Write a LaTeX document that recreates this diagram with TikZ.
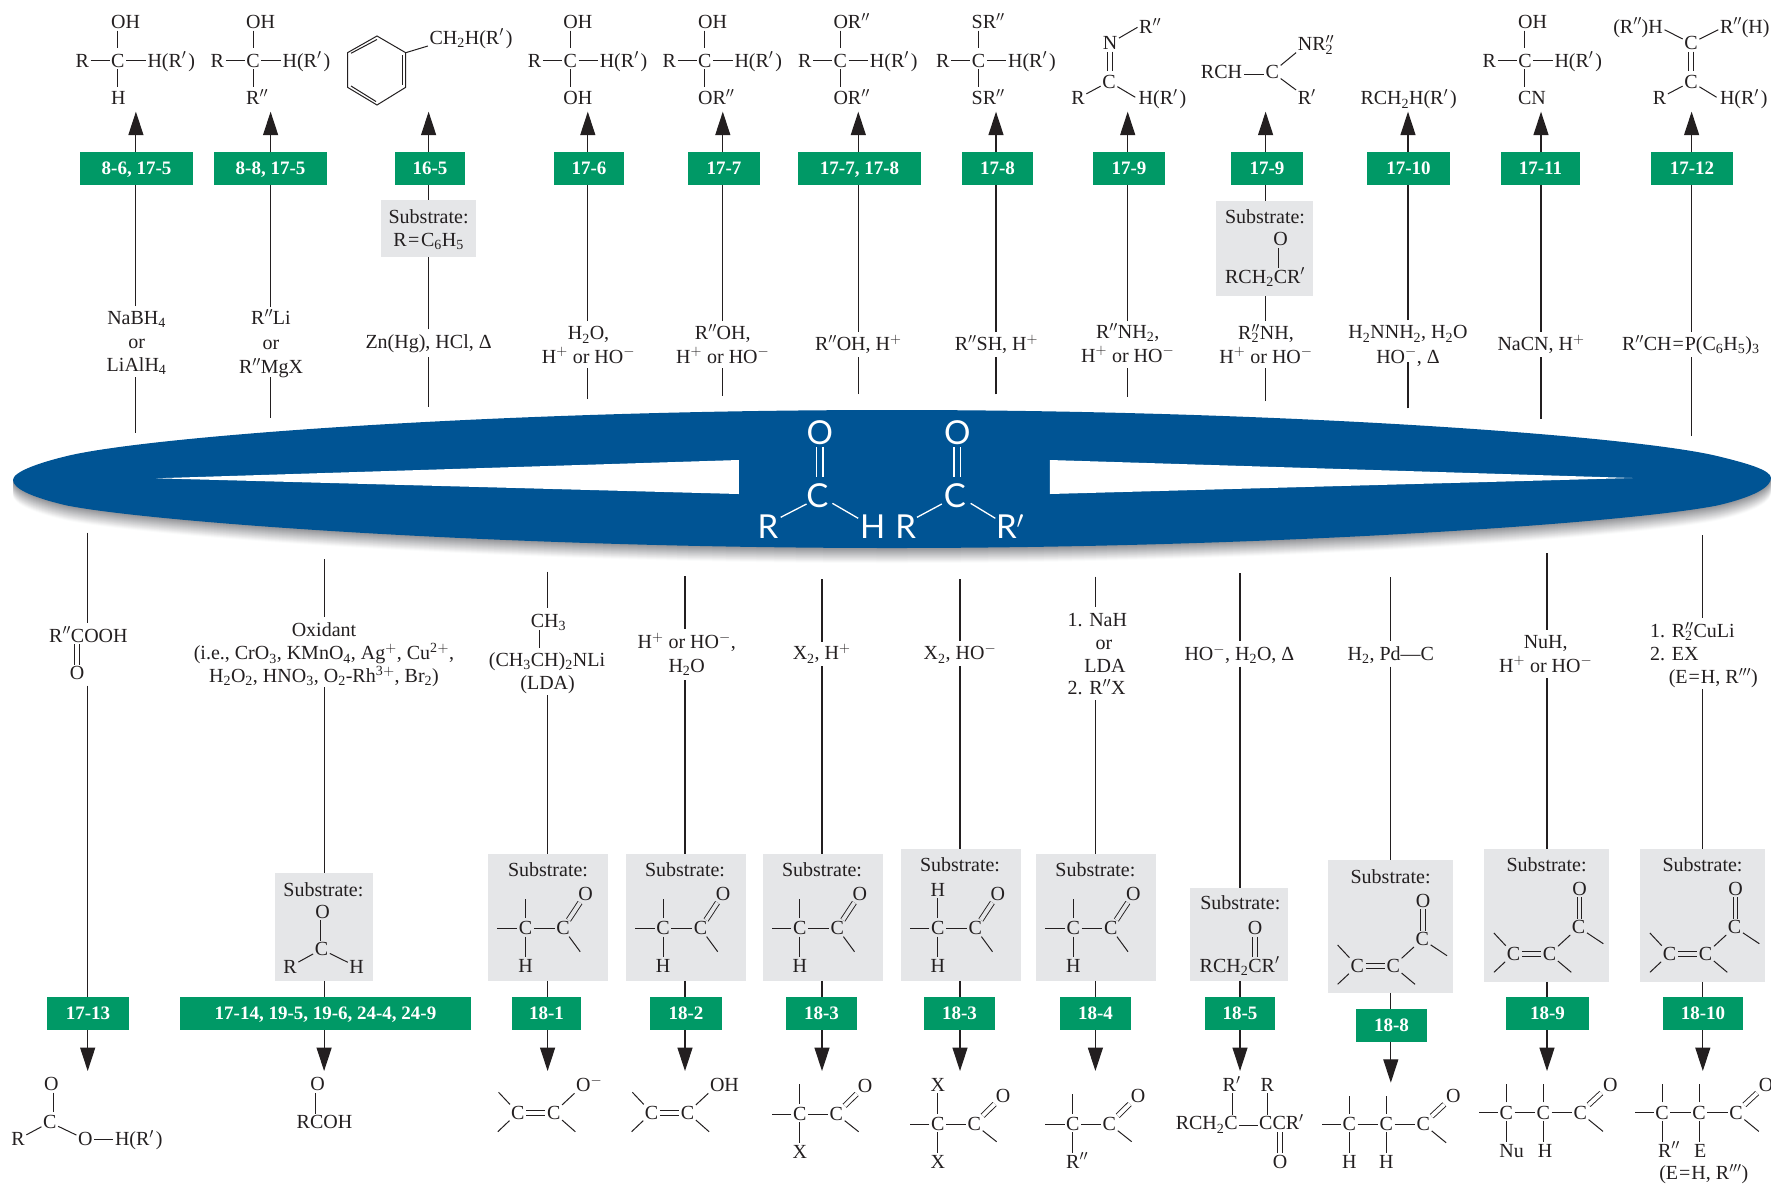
\documentclass[tikz,border=0pt]{standalone}
\usepackage{fontspec}
\setmainfont{Liberation Serif}
\newfontfamily\lensfont{Lato}
\usetikzlibrary{arrows.meta}
\definecolor{ink}{HTML}{231F20}
\definecolor{gr}{HTML}{009966}
\definecolor{sg}{HTML}{E5E6E8}
\definecolor{blu}{HTML}{005494}
\definecolor{shc}{HTML}{8F9094}
\newcommand\tsb[1]{\textsubscript{#1}}
\newcommand\tsp[1]{\textsuperscript{#1}}
\newcommand\pls{$^{+}$}
\newcommand\mns{$^{-}$}
\newcommand\rp{$'$}
\newcommand\rpp{$''$}
\newcommand\rppp{$'''$}
\newcommand\hr{H(R$'$\kern2pt)}
\newcommand\stk[1]{\rlap{\tsb{#1}}$''$}
\newcommand\hmns{HO\mns}
\tikzset{
  atom/.style={inner sep=1.5pt,font=\fontsize{20}{24}\selectfont,text height=13.2pt,text depth=0pt,text=ink},
  white atom/.style={inner sep=2pt,font=\fontsize{33}{36}\selectfont\lensfont,text height=24pt,text depth=0pt,text=white},
  bond/.style={line width=1pt,draw=ink},
  dbond/.style={line width=.9pt,draw=ink,double=white,double distance=3.8pt},
  dbg/.style={line width=.9pt,draw=ink,double=sg,double distance=3.8pt},
  wbond/.style={line width=1.3pt,draw=white},
  wdbl/.style={line width=1.3pt,draw=white,double=blu,double distance=5.5pt},
  rl/.style={line width=1.1pt,draw=ink},
  arr/.style={rl,-{Triangle[length=23.4pt,width=15pt,fill=ink]}},
  greenlabel/.style={fill=gr,inner sep=0pt,text=white,font=\fontsize{19}{22}\selectfont\bfseries,text height=12.6pt,text depth=0pt},
  graylabel/.style={fill=sg,inner sep=0pt},
}
\newcommand\A[4]{\node[atom] (#1) at (#2,#3) {#4};}
\newcommand\AW[4]{\node[atom,anchor=west] (#1) at ({#2-1.5},#3) {#4};}
\newcommand\bnd[2]{\draw[bond] (#1)--(#2);}
\newcommand\dbl[2]{\draw[dbond] (#1)--(#2);}
\newcommand\greenbox[5]{\node[greenlabel,minimum width={(#3-#2)*1pt},minimum height=33pt] (#1) at ({(#2+#3)/2},{#4+16.5}) {#5};}
\newcommand\graybox[5]{\node[graylabel,minimum width={(#3-#2)*1pt},minimum height={(#5-#4)*1pt}] (#1) at ({(#2+#3)/2},{(#4+#5)/2}) {};}
% columns of the upper row
\newcommand\upcol[6]{\coordinate (#1s) at (#2,#3);\coordinate (#1r) at (#2,#4);\coordinate (#1u) at (#2,#5);\coordinate (#1t) at (#2,111.7);
  \draw[rl] (#1s)--(#1r);\draw[rl] (#1u)--(#1u |- #6.south);\draw[arr] (#1u |- #6.north)--(#1t);}
\newcommand\upcolsub[7]{\coordinate (#1s) at (#2,#3);\coordinate (#1r) at (#2,#4);\coordinate (#1u) at (#2,#5);\coordinate (#1t) at (#2,111.7);
  \draw[rl] (#1s)--(#1r);\draw[rl] (#1u)--(#1u |- #7.south);\draw[rl] (#1u |- #7.north)--(#1u |- #6.south);\draw[arr] (#1u |- #6.north)--(#1t);}
% columns of the lower row
\newcommand\downsub[8]{\coordinate (#1s) at (#2,#3);\coordinate (#1r) at (#2,#4);\coordinate (#1u) at (#2,#5);\coordinate (#1t) at (#2,#6);
  \draw[rl] (#1s)--(#1r);\draw[rl] (#1u)--(#1u |- #8.north);\draw[rl] (#1u |- #8.south)--(#1u |- #7.north);\draw[arr] (#1u |- #7.south)--(#1t);}
% R-C-H(R') product
\newcommand\chc[5]{\A{#1c}{#2}{#3}{C}\A{#1l}{{#2-35.6}}{#3}{R}\AW{#1r}{#2+29.4}{#3}{\hr}
  \AW{#1t}{#2-7}{#3-38.4}{#4}\AW{#1b}{#2-7}{#3+37.6}{#5}
  \draw[bond] (#1l.east)--(#1c.west);\draw[bond] (#1c.east)--(#1r.west);
  \draw[bond] (#1c |- #1t.south)--([yshift=4pt]#1c.north);\draw[bond] (#1c.south)--([yshift=3pt]#1c.south |- #1b.north);}
% substrate ketone
\newcommand\subket[3]{\A{#1a}{#2}{#3}{C}\A{#1c}{{#2+37.5}}{#3}{C}\A{#1o}{{#2+60}}{{#3-34}}{O}\A{#1h}{#2}{{#3+37.4}}{H}
  \coordinate (#1L) at ({#2-28.2},#3);\coordinate (#1T) at (#2,{#3-29});\coordinate (#1R) at ({#2+54.7},{#3+23.4});
  \bnd{#1a}{#1L}\bnd{#1a}{#1c}\bnd{#1c}{#1R}\draw[dbg] (#1c)--(#1o);\bnd{#1a}{#1h}}
% product ketone
\newcommand\prodket[3]{\A{#1a}{#2}{#3}{C}\A{#1c}{{#2+36.5}}{#3}{C}\A{#1o}{{#2+65.2}}{{#3-28.3}}{O}
  \coordinate (#1L) at ({#2-27.8},#3);\coordinate (#1T) at (#2,{#3-29.7});\coordinate (#1R) at ({#2+58.8},{#3+17.7});
  \bnd{#1a}{#1L}\bnd{#1a}{#1c}\bnd{#1c}{#1R}\dbl{#1c}{#1o}}
% chain of three carbons
\newcommand\prodchain[3]{\A{#1a}{#2}{#3}{C}\A{#1b}{{#2+37}}{#3}{C}\A{#1c}{{#2+74}}{#3}{C}\A{#1o}{{#2+104}}{{#3-28}}{O}
  \coordinate (#1L) at ({#2-27.4},#3);\coordinate (#1T) at (#2,{#3-28.4});\coordinate (#1U) at ({#2+37},{#3-28.4});\coordinate (#1R) at ({#2+96.8},{#3+18.7});
  \bnd{#1a}{#1L}\bnd{#1a}{#1b}\bnd{#1b}{#1c}\bnd{#1c}{#1R}\dbl{#1c}{#1o}
  \draw[bond,shorten <=2pt] (#1a)--(#1T);\draw[bond,shorten <=2pt] (#1b)--(#1U);}
% enone in a substrate box
\newcommand\subenone[3]{\A{#1a}{#2}{#3}{C}\A{#1b}{{#2+36}}{#3}{C}\A{#1c}{{#2+65.1}}{{#3-26.7}}{C}\A{#1o}{{#2+66}}{{#3-65.3}}{O}
  \coordinate (#1U) at ({#2-19.6},{#3-21});\coordinate (#1D) at ({#2-19.6},{#3+18.3});\coordinate (#1E) at ({#2+57.8},{#3+18.3});\coordinate (#1R) at ({#2+89.8},{#3-10.3});
  \bnd{#1a}{#1U}\bnd{#1a}{#1D}\draw[dbg] (#1a.east)--(#1b.west);\bnd{#1b}{#1E}\bnd{#1b}{#1c}\bnd{#1c}{#1R}
  \draw[dbg] (#1o.south)--(#1o.south |- #1c.north);}
% enol / enolate product
\newcommand\enolp[4]{\A{#1a}{#2}{#3}{C}\A{#1b}{{#2+35.9}}{#3}{C}\AW{#1o}{#2+58.2}{#3-27.7}{#4}
  \coordinate (#1U) at ({#2-19.2},{#3-20.4});\coordinate (#1D) at ({#2-20},{#3+19});\coordinate (#1E) at ({#2+57.5},{#3+19});
  \bnd{#1a}{#1U}\bnd{#1a}{#1D}\dbl{#1a.east}{#1b.west}\bnd{#1b}{#1E}\draw[bond] (#1b)--(#1o.south west);}
\def\lens{(13,480) .. controls (13,472) and (38,463) .. (67,456) .. controls (150,436) and (500,410) .. (892,410)
  .. controls (1284,410) and (1634,436) .. (1717,456) .. controls (1746,463) and (1771,470) .. (1771,478)
  .. controls (1771,487) and (1754,497) .. (1717,505.5) .. controls (1634,522) and (1284,548) .. (892,548)
  .. controls (500,548) and (150,522) .. (67,505.5) .. controls (30,497) and (13,488) .. (13,480) -- cycle}
\begin{document}
\begin{tikzpicture}[x=1pt,y=-1pt]
\path[use as bounding box,fill=white] (0,0) rectangle (1771,1187);
% ---- central lens
\foreach \i in {15,14,...,1}{
  \pgfmathtruncatemacro\p{100-6.4*\i}
  \begin{scope}[yshift=-\i pt]\fill[shc!\p!white] \lens;\end{scope}
}
\fill[blu] \lens;
\fill[white] (156,478.3) -- (738.8,460) -- (738.8,494) -- cycle;
\fill[white] (1632.6,478) -- (1049.9,460) -- (1049.9,494) -- cycle;
\node[white atom] (wo1) at (819.7,432.7) {O};
\node[white atom] (wc1) at (817.5,495) {C};
\node[white atom] (wr1) at (768,526) {R};
\node[white atom] (wh1) at (872.6,526) {H};
\draw[wdbl] (wo1.south)--([yshift=3.7pt]wo1.south |- wc1.north);
\coordinate (wa1) at (806.5,504);\coordinate (wb1) at (780.7,517.3);\coordinate (wa2) at (832.4,503.3);\coordinate (wb2) at (858.2,518.3);
\draw[wbond] (wa1)--(wb1);\draw[wbond] (wa2)--(wb2);
\node[white atom] (wo2) at (957.4,432.7) {O};
\node[white atom] (wc2) at (955,495) {C};
\node[white atom] (wr2) at (905.6,526) {R};
\node[white atom] (wr3) at (1010,526) {R\rp};
\draw[wdbl] (wo2.south)--([yshift=3.7pt]wo2.south |- wc2.north);
\coordinate (wa3) at (941.8,504);\coordinate (wb3) at (917,517.3);\coordinate (wa4) at (970.6,503.3);\coordinate (wb4) at (995.3,518.3);
\draw[wbond] (wa3)--(wb3);\draw[wbond] (wa4)--(wb4);
% ---- upper green boxes
\greenbox{g1}{80}{193}{152}{8-6, 17-5}
\greenbox{g2}{214}{327}{152}{8-8, 17-5}
\greenbox{g3}{395}{465}{152}{16-5}
\greenbox{g4}{554}{624}{152}{17-6}
\greenbox{g5}{688}{760}{152}{17-7}
\greenbox{g6}{798}{921}{152}{17-7, 17-8}
\greenbox{g7}{962}{1033}{152}{17-8}
\greenbox{g8}{1093}{1165}{152}{17-9}
\greenbox{g9}{1231}{1303}{152}{17-9}
\greenbox{g10}{1367}{1450}{152}{17-10}
\greenbox{g11}{1501}{1580}{152}{17-11}
\greenbox{g12}{1651}{1733}{152}{17-12}
\graybox{s3}{381}{476}{200}{256.7}
\graybox{s9}{1216}{1313}{201}{295.7}
% ---- upper columns
\upcol{u1}{135.9}{432.7}{377.3}{306}{g1}
\upcol{u2}{270.6}{417.7}{377}{306.7}{g2}
\upcolsub{u3}{428.6}{406.7}{356.7}{329.3}{g3}{s3}
\upcol{u4}{587.8}{399}{368.3}{321}{g4}
\upcol{u5}{722.8}{395.7}{368.3}{321}{g5}
\upcol{u6}{858.3}{394}{356.7}{331.7}{g6}
\upcol{u7}{996}{394.3}{356.7}{331.7}{g7}
\upcol{u8}{1127.7}{396.7}{368}{321}{g8}
\upcolsub{u9}{1265.6}{401}{368.3}{320.7}{g9}{s9}
\upcol{u10}{1408}{408.3}{361.7}{320}{g10}
\upcol{u11}{1541}{418.7}{357.3}{331.7}{g11}
\upcol{u12}{1691.6}{436}{356.7}{331.7}{g12}
% ---- upper reagents
\A{r1a}{136.6}{318}{NaBH\tsb{4}}\A{r1b}{136.6}{342}{or}\A{r1c}{136.6}{365}{LiAlH\tsb{4}}
\A{r2a}{271}{318}{R\rpp Li}\A{r2b}{271}{343}{or}\A{r2c}{271}{367}{R\rpp MgX}
\A{r3a}{428.6}{342}{Zn(Hg), HCl, Δ}
\A{r3b}{428.6}{216.7}{Substrate:}\A{r3c}{428.6}{240}{R\kern1.5pt=\kern1.5pt C\tsb{6}H\tsb{5}}
\A{r4a}{588.5}{333.3}{H\tsb{2}O,}\A{r4b}{588.5}{356.7}{H\pls{} or \hmns}
\A{r5a}{722.8}{333.3}{R\rpp OH,}\A{r5b}{722.8}{356.7}{H\pls{} or \hmns}
\A{r6a}{858.3}{344}{R\rpp OH, H\pls}
\A{r7a}{996.5}{344}{R\rpp SH, H\pls}
\A{r8a}{1127.7}{332}{R\rpp NH\tsb{2},}\A{r8b}{1127.7}{355.7}{H\pls{} or \hmns}
\A{r9a}{1266}{333}{R\stk{2}NH,}\A{r9b}{1266}{356.7}{H\pls{} or \hmns}
\A{r9c}{1265}{216.7}{Substrate:}\A{r9d}{1280.6}{239.3}{O}\A{r9e}{1265}{276.7}{RCH\tsb{2}CR\rp}
\draw[dbg] (r9d.south)--(r9d.south |- r9e.north);
\A{r10a}{1408}{332.3}{H\tsb{2}NNH\tsb{2}, H\tsb{2}O}\A{r10b}{1408}{356.7}{\hmns, Δ}
\A{r11a}{1541}{344.3}{NaCN, H\pls}
\A{r12a}{1690.8}{344}{R\rpp CH\kern1pt=\kern1pt P(C\tsb{6}H\tsb{5})\tsb{3}}
% ---- upper products
\chc{p1}{117.9}{60.7}{OH}{H}
\chc{p2}{253}{60.7}{OH}{R\rpp}
\chc{p4}{570.2}{60.7}{OH}{OH}
\chc{p5}{704.9}{60.7}{OH}{OR\rpp}
\chc{p6}{840.3}{60.7}{OR\rpp}{OR\rpp}
\chc{p7}{978.5}{60.7}{SR\rpp}{SR\rpp}
\chc{p11}{1524.9}{60.7}{OH}{CN}
% benzene
\coordinate (bz1) at (377,36);\coordinate (bz2) at (405.7,52.7);\coordinate (bz3) at (405.7,87.3);
\coordinate (bz4) at (377,105);\coordinate (bz5) at (347.5,87.3);\coordinate (bz6) at (347.5,52.7);
\draw[bond,line join=miter] (bz1)--(bz2)--(bz3)--(bz4)--(bz5)--(bz6)--cycle;
\coordinate (bi1) at (351,53.3);\coordinate (bi2) at (377,39.5);\coordinate (bi3) at (402.7,55);\coordinate (bi4) at (402.7,85);
\coordinate (bi5) at (351,86);\coordinate (bi6) at (376,101.5);
\draw[bond] (bi1)--(bi2);\draw[bond] (bi3)--(bi4);\draw[bond] (bi5)--(bi6);
\AW{p3a}{429.4}{37.7}{CH\tsb{2}\hr}
\draw[bond] (bz2)--(p3a.south west);
% imine
\A{p8n}{1110}{43.3}{N}\AW{p8r}{1139}{27.3}{R\rpp}\A{p8c}{1109}{81.7}{C}\A{p8l}{1078}{98.3}{R}\AW{p8h}{1138.5}{98.3}{\hr}
\draw[dbond] (p8n.south)--([yshift=2.5pt]p8n.south |- p8c.north);
\draw[bond] (p8n)--(p8r.west);\bnd{p8c}{p8l}\draw[bond,shorten >=2pt] (p8c)--(p8h.west);
% enamine
\AW{p9a}{1200.7}{72.3}{RCH}\A{p9c}{1272.3}{72.3}{C}\AW{p9n}{1297.6}{44.3}{NR\stk{2}}\AW{p9r}{1297.6}{98.3}{R\rp}
\dbl{p9a.east}{p9c.west}\draw[bond] (p9c)--(p9n.south west);\draw[bond] (p9c)--(p9r.north west);
% RCH2H(R')
\A{p10a}{1408.6}{98.3}{RCH\tsb{2}\hr}
% alkene
\A{p12u}{1691}{43.3}{C}\A{p12c}{1691}{81.7}{C}
\node[atom,anchor=east] (p12a) at (1664.5,26.7) {(R\rpp)H};
\AW{p12b}{1719.8}{26.7}{R\rpp(H)}\A{p12l}{1659.5}{98.3}{R}\AW{p12h}{1719.8}{98.3}{\hr}
\draw[dbond] (p12u.south)--([yshift=2.5pt]p12u.south |- p12c.north);
\draw[bond] (p12u)--([yshift=-3pt]p12a.east);\draw[bond] (p12u)--([yshift=-3pt]p12b.west);
\bnd{p12c}{p12l}\draw[bond,shorten >=2pt] (p12c)--(p12h.west);
% ---- lower green boxes
\greenbox{h1}{47}{129}{997}{17-13}
\greenbox{h2}{180}{471}{997}{17-14, 19-5, 19-6, 24-4, 24-9}
\greenbox{h3}{512}{581}{997}{18-1}
\greenbox{h4}{650}{722}{997}{18-2}
\greenbox{h5}{786}{857}{997}{18-3}
\greenbox{h6}{924}{995}{997}{18-3}
\greenbox{h7}{1060}{1131}{997}{18-4}
\greenbox{h8}{1205}{1275}{997}{18-5}
\greenbox{h9}{1356}{1427}{1009}{18-8}
\greenbox{h10}{1506}{1589}{997}{18-9}
\greenbox{h11}{1663}{1743}{997}{18-10}
\graybox{t2}{275}{373}{873.3}{980.7}
\graybox{t3}{488}{608}{854}{980.7}
\graybox{t4}{626}{746}{854}{980.7}
\graybox{t5}{763}{883}{854}{980.7}
\graybox{t6}{901}{1021}{849}{980.7}
\graybox{t7}{1036}{1156}{854}{980.7}
\graybox{t8}{1190}{1288}{887.7}{980.7}
\graybox{t9}{1328}{1453}{860}{992.7}
\graybox{t10}{1484}{1609}{849}{981.7}
\graybox{t11}{1640}{1765}{849}{981.7}
% ---- lower columns
\coordinate (d1s) at (87.7,532.7);\coordinate (d1r) at (87.7,623.3);\coordinate (d1u) at (87.7,685.7);\coordinate (d1t) at (87.7,1071);
\draw[rl] (d1s)--(d1r);\draw[rl] (d1u)--(d1u |- h1.north);\draw[arr] (d1u |- h1.south)--(d1t);
\downsub{d2}{324.1}{559.3}{616.7}{687.3}{1071}{h2}{t2}
\downsub{d3}{547.6}{571.7}{608.3}{695}{1071}{h3}{t3}
\downsub{d4}{685}{576}{629.3}{680}{1071}{h4}{t4}
\downsub{d5}{822}{579}{641.7}{666}{1071}{h5}{t5}
\downsub{d6}{960}{579}{641}{666}{1071}{h6}{t6}
\downsub{d7}{1095.4}{576.7}{606.7}{700}{1071}{h7}{t7}
\downsub{d8}{1240}{573.3}{641}{666.7}{1071}{h8}{t8}
\downsub{d9}{1390.8}{577}{641}{666.7}{1082.7}{h9}{t9}
\downsub{d10}{1547}{553.3}{630}{678.3}{1071}{h10}{t10}
\downsub{d11}{1702.8}{535}{618.3}{689.3}{1071}{h11}{t11}
% ---- lower reagents
\A{e1a}{88.4}{635.7}{R\rpp COOH}\A{e1b}{77}{673.3}{O}
\draw[dbond] (e1b.north)--(e1b.north |- e1a.south);
\A{e2a}{324}{630}{Oxidant}
\A{e2b}{324}{653.3}{(i.e., CrO\tsb{3}, KMnO\tsb{4}, Ag\pls, Cu\tsp{2}\pls,}
\A{e2c}{324}{676}{H\tsb{2}O\tsb{2}, HNO\tsb{3}, O\tsb{2}-Rh\tsp{3}\pls, Br\tsb{2})}
\A{e3a}{548.4}{620.7}{CH\tsb{3}}\A{e3b}{547}{660}{(CH\tsb{3}CH)\tsb{2}NLi}\A{e3c}{547.6}{683.3}{(LDA)}
\coordinate (e3x) at (539.6,630);\coordinate (e3y) at (539.6,648.3);\draw[bond] (e3x)--(e3y);
\A{e4a}{686.7}{642.3}{H\pls{} or \hmns,}\A{e4b}{686.7}{666}{H\tsb{2}O}
\A{e5a}{821.7}{653.3}{X\tsb{2}, H\pls}
\A{e6a}{960}{653.3}{X\tsb{2}, \hmns}
\AW{e7a}{1067.4}{620}{1. NaH}\A{e7b}{1104}{643.3}{or}\A{e7c}{1105}{666}{LDA}\AW{e7d}{1067.4}{688.3}{2. R\rpp X}
\A{e8a}{1239.4}{654}{\hmns, H\tsb{2}O, Δ}
\A{e9a}{1390.8}{654}{H\tsb{2}, Pd—C}
\A{e10a}{1545.7}{642.3}{NuH,}\A{e10b}{1545.7}{665.7}{H\pls{} or \hmns}
\AW{e11a}{1650}{631}{1. R\stk{2}CuLi}\AW{e11b}{1650}{654.3}{2. EX}\AW{e11c}{1668.6}{677.3}{(E\kern1pt=\kern1pt H, R\rppp)}
% ---- substrates
\A{f2a}{323.4}{890}{Substrate:}\A{f2o}{322.6}{911.7}{O}\A{f2c}{321.5}{949.3}{C}\A{f2r}{290}{966.7}{R}\A{f2h}{356.7}{966.7}{H}
\draw[dbg] (f2o.south)--(f2o.south |- f2c.north);\bnd{f2c}{f2r}\bnd{f2c}{f2h}
\A{f3s}{548}{870}{Substrate:}\subket{f3}{525.5}{928.3}\draw[bond,shorten <=2pt] (f3a)--(f3T);
\A{f4s}{685}{870}{Substrate:}\subket{f4}{663}{928.3}\draw[bond,shorten <=2pt] (f4a)--(f4T);
\A{f5s}{822}{870}{Substrate:}\subket{f5}{799.8}{928.3}\draw[bond,shorten <=2pt] (f5a)--(f5T);
\A{f6s}{960}{865}{Substrate:}\subket{f6}{937.8}{928.3}\A{f6t}{937.8}{890}{H}\draw[bond,shorten <=2pt] (f6a)--(f6t);
\A{f7s}{1095.4}{870}{Substrate:}\subket{f7}{1073.3}{928.3}\draw[bond,shorten <=2pt] (f7a)--(f7T);
\A{f8s}{1240.3}{903.3}{Substrate:}\A{f8o}{1255}{928.3}{O}\AW{f8t}{1199.5}{965.7}{RCH\tsb{2}CR\rp}
\draw[dbg] (f8o.south)--(f8o.south |- f8t.north);
\A{f9s}{1390.6}{876.7}{Substrate:}\subenone{f9}{1357.2}{966}
\A{f10s}{1546.6}{865}{Substrate:}\subenone{f10}{1513.5}{954}
\A{f11s}{1702.5}{865}{Substrate:}\subenone{f11}{1669.5}{954}
% ---- lower products
\A{q1o}{51.3}{1084.3}{O}\A{q1c}{49.8}{1122.3}{C}\A{q1r}{18}{1139.3}{R}\A{q1p}{85.3}{1139.3}{O}\AW{q1h}{114.8}{1139.3}{\hr}
\draw[dbond] (q1o.south)--([yshift=2pt]q1o.south |- q1c.north);\bnd{q1c}{q1r}\bnd{q1c}{q1p}\draw[bond] (q1p.east)--(q1h.west);
\A{q2o}{317.6}{1084.3}{O}\A{q2t}{324.5}{1122.3}{RCOH}
\draw[dbond] (q2o.south)--(q2o.south |- q2t.north);
\enolp{q3}{517.8}{1112.7}{O\mns}
\enolp{q4}{651.6}{1112.7}{OH}
\prodket{q5}{799.8}{1114}\A{q5x}{799.8}{1151.7}{X}\draw[bond,shorten <=2pt] (q5a)--(q5T);\bnd{q5a}{q5x}
\prodket{q6}{937.8}{1124}\A{q6t}{937.8}{1085}{X}\A{q6x}{937.8}{1161.7}{X}\draw[bond,shorten <=2pt] (q6a)--(q6t);\bnd{q6a}{q6x}
\prodket{q7}{1072.9}{1124}\AW{q7x}{1066}{1161.7}{R\rpp}\draw[bond,shorten <=2pt] (q7a)--(q7T);\draw[bond] (q7a.south)--(q7a.south |- q7x.north);
\AW{q8a}{1175.6}{1123.3}{RCH\tsb{2}C}\AW{q8b}{1259}{1123.3}{CCR\rp}
\AW{q8r}{1222.5}{1085}{R\rp}\A{q8s}{1267.2}{1085}{R}\A{q8o}{1280}{1161.7}{O}
\dbl{q8a.east}{q8b.west}
\draw[bond] (q8r.south -| q8a.east)++(-7,0) coordinate (q8v)--(q8v |- q8a.north);
\draw[bond] (q8s.south)--(q8s.south |- q8b.north);
\draw[dbond] (q8o.north)--(q8o.north |- q8b.south);
\prodchain{q9}{1349.3}{1124}\A{q9h}{1349.3}{1161.7}{H}\A{q9i}{1386.3}{1161.7}{H}
\bnd{q9a}{q9h}\bnd{q9b}{q9i}
\prodchain{q10}{1506.2}{1112.7}\AW{q10n}{1499.2}{1150.7}{Nu}\AW{q10h}{1537.6}{1150.7}{H}
\draw[bond] (q10a.south)--(q10a.south |- q10n.north);\draw[bond] (q10b.south)--(q10b.south |- q10h.north);
\prodchain{q11}{1662}{1112.7}\AW{q11n}{1657.8}{1150.7}{R\rpp}\AW{q11h}{1694}{1150.7}{E}\A{q11t}{1703.8}{1173.3}{(E\kern1pt=\kern1pt H, R\rppp)}
\draw[bond] (q11a.south)--(q11a.south |- q11n.north);\draw[bond] (q11b.south)--(q11b.south |- q11h.north);
\end{tikzpicture}
\end{document}
